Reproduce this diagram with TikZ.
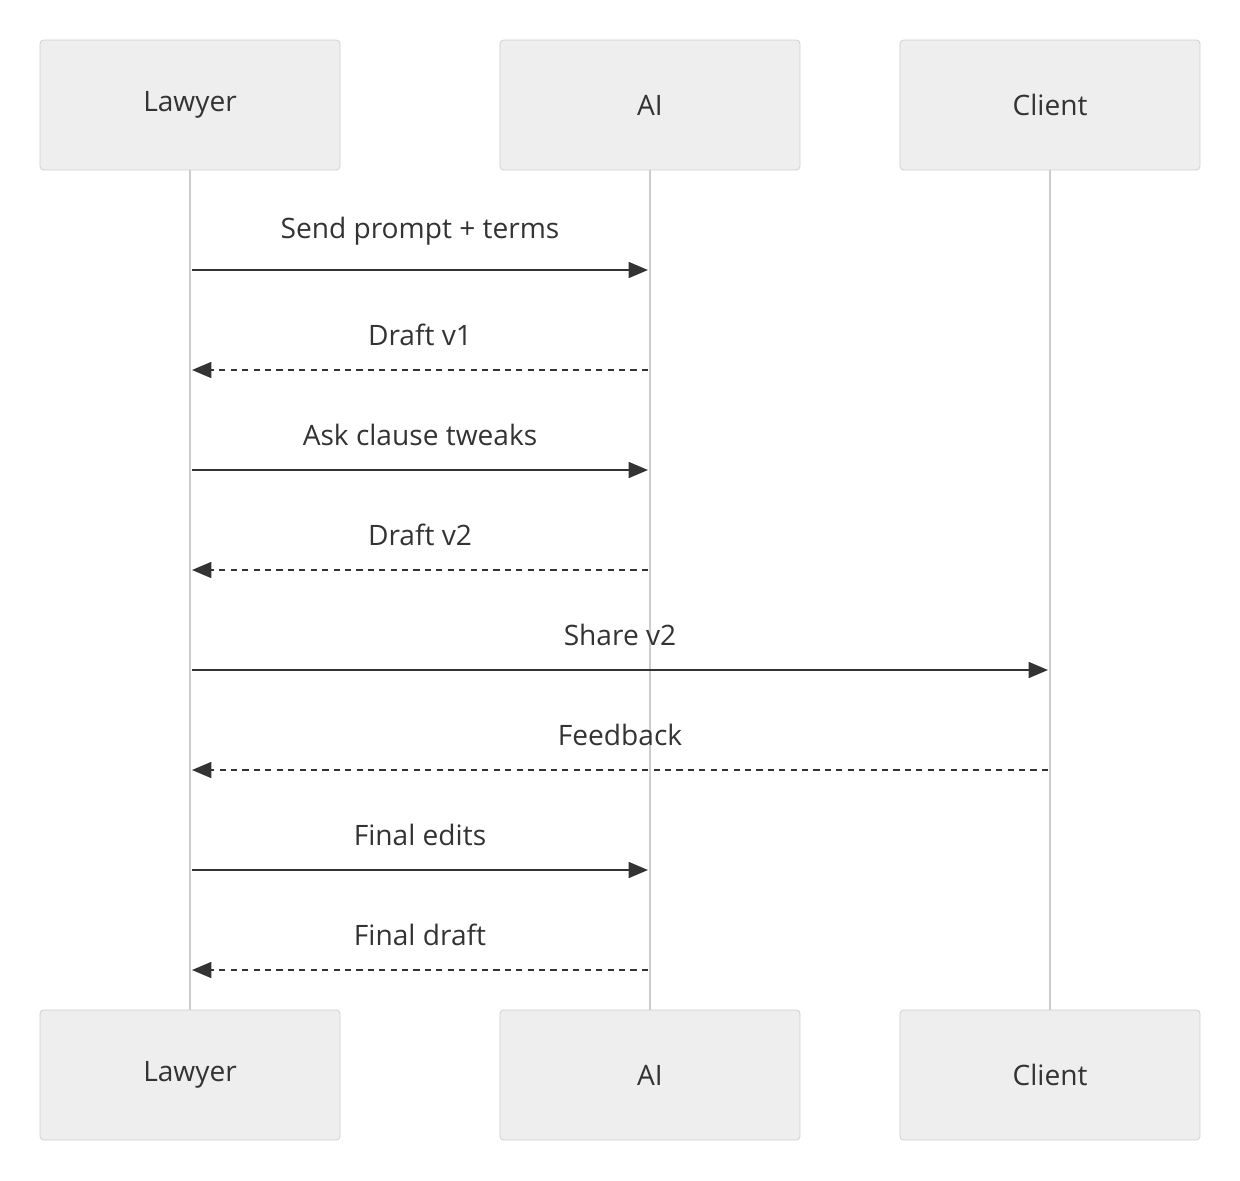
\documentclass[tikz,border=0pt]{standalone}
\usepackage{fontspec}
\setmainfont{Open Sans}
\usetikzlibrary{positioning, arrows.meta}
\definecolor{boxfill}{HTML}{EEEEEE}
\definecolor{boxline}{HTML}{CCCCCC}
\definecolor{ink}{HTML}{333333}
\tikzset{
x=0.02cm, y=-0.02cm, % one unit is one pixel of the layout
actor/.style={draw=boxline, fill=boxfill, rounded corners=2pt, minimum width=6cm, minimum height=2.6cm, text=ink, font=\fontsize{16}{19}\selectfont}, % the participant boxes
life/.style={draw=boxline, line width=1.4pt}, % lifelines
msg/.style={draw=ink, line width=1.2pt, -{Triangle[length=11pt,width=9pt]}}, % request arrows
reply/.style={msg, dash pattern=on 3.5pt off 3pt}, % answers
lbl/.style={text=ink, font=\fontsize{16}{19}\selectfont, above=10pt}, % message labels
}
\begin{document}
\begin{tikzpicture}
\useasboundingbox (0,0) rectangle (1240,1180);
% participants
\node[actor] (lawT) at (190,105) {Lawyer};
\node[actor] (aiT) at (650,105) {AI};
\node[actor] (cliT) at (1050,105) {Client};
\node[actor] (lawB) at (190,1075) {Lawyer};
\node[actor] (aiB) at (650,1075) {AI};
\node[actor] (cliB) at (1050,1075) {Client};
\draw[life] (lawT) -- (lawB);
\draw[life] (aiT) -- (aiB);
\draw[life] (cliT) -- (cliB);
% message end points
\foreach \n/\y in {1/270,2/370,3/470,4/570,5/670,6/770,7/870,8/970}{
  \coordinate (l\n) at (192,\y);
  \coordinate (a\n) at (648,\y);
  \coordinate (c\n) at (1048,\y);
}
\draw[msg] (l1) -- node[lbl] {Send prompt + terms} (a1);
\draw[reply] (a2) -- node[lbl] {Draft v1} (l2);
\draw[msg] (l3) -- node[lbl] {Ask clause tweaks} (a3);
\draw[reply] (a4) -- node[lbl] {Draft v2} (l4);
\draw[msg] (l5) -- node[lbl] {Share v2} (c5);
\draw[reply] (c6) -- node[lbl] {Feedback} (l6);
\draw[msg] (l7) -- node[lbl] {Final edits} (a7);
\draw[reply] (a8) -- node[lbl] {Final draft} (l8);
\end{tikzpicture}
\end{document}
